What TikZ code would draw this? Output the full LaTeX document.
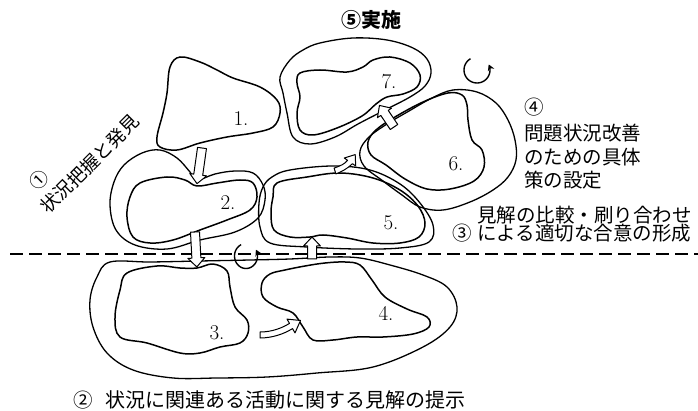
\documentclass[tikz,border=0pt]{standalone}
\usepackage{fontspec}
\newfontfamily\jp{Noto Sans CJK JP}
\usetikzlibrary{arrows.meta}
\newcommand\blockarrow[4]{%
\begin{scope}[shift={(#1,#2)},rotate=#3]
\draw[barrowstyle] (0,-4.5) -- ({#4-9},-4.5) -- ({#4-9},-8.5) -- (#4,0) -- ({#4-9},8.5) -- ({#4-9},4.5) -- (0,4.5) -- cycle;
\end{scope}}
\begin{document}
\begin{tikzpicture}[x=1pt,y=-1pt,
  blob/.style={line width=1.5pt, line join=round},
  outer/.style={line width=1.3pt, line join=round},
  barrowstyle/.style={draw, fill=white, line width=1pt, line join=round},
  num/.style={font=\fontsize{21}{21}\selectfont, inner sep=0pt},
  jtext/.style={font=\jp\fontsize{19.5}{20}\selectfont, inner sep=0pt, anchor=west},
  turn/.style={line width=1.4pt, -{Stealth[length=6pt,width=7pt]}},
]
\useasboundingbox (0,0) rectangle (698,411);

% dashed separation line
\draw[line width=1.2pt, dash pattern=on 13pt off 6pt] (10,254) coordinate (dl) -- (698,254) coordinate (dr);

% outer loops
\draw[outer] plot[smooth cycle, tension=0.6] coordinates {(197,180) (215,174) (235,171) (253,173) (263,185) (265,200) (258,218) (235,232) (200,240) (167,249) (135,245) (116,230) (110,205) (114,182) (124,165) (142,153) (160,150) (177,158) (190,172)};
\draw[outer] plot[smooth cycle, tension=0.6] coordinates {(110,262) (97,277) (90,300) (93,327) (107,353) (133,370) (173,378) (217,378) (267,377) (317,373) (373,367) (423,347) (450,327) (457,307) (447,287) (423,275) (390,265) (360,258) (330,257) (290,259) (250,260) (200,261) (150,262)};
\draw[outer] plot[smooth cycle, tension=0.6] coordinates {(263,187) (272,177) (290,170) (333,166) (370,170) (400,184) (420,203) (433,225) (429,242) (400,248) (357,249) (307,247) (270,243) (260,227) (259,203)};
\draw[outer] plot[smooth cycle, tension=0.6] coordinates {(369,137) (387,124) (409,111) (432,98) (453,90) (477,92) (496,103) (508,120) (515,140) (516,160) (508,177) (493,190) (470,202) (443,210) (420,207) (402,195) (383,181) (364,166) (360,151)};
\draw[outer] plot[smooth cycle, tension=0.6] coordinates {(303,50) (320,43) (353,38) (387,40) (413,48) (427,59) (431,73) (425,86) (410,97) (385,110) (358,124) (335,137) (310,144) (293,137) (287,113) (283,93) (280,77) (290,60)};

% inner blobs
\draw[blob] plot[smooth cycle, tension=0.6] coordinates {(180,57) (200,62) (217,70) (233,78) (260,87) (277,100) (280,113) (273,127) (253,133) (227,137) (200,143) (177,150) (160,147) (157,137) (163,113) (167,93) (170,67)};
\draw[blob] plot[smooth cycle, tension=0.6] coordinates {(140,183) (167,177) (185,180) (197,186) (217,183) (240,180) (253,183) (257,197) (250,210) (227,220) (200,230) (173,240) (150,243) (133,237) (127,217) (130,197)};
\draw[blob] plot[smooth cycle, tension=0.6] coordinates {(127,273) (157,266) (180,268) (197,268) (213,264) (227,271) (230,287) (235,307) (247,320) (248,333) (240,343) (220,347) (200,353) (180,353) (147,343) (120,337) (115,317) (120,290)};
\draw[blob] plot[smooth cycle, tension=0.6] coordinates {(263,297) (262,283) (270,274) (285,270) (305,266) (325,263) (345,262) (360,265) (372,280) (385,297) (407,309) (427,317) (429,327) (413,334) (383,337) (357,337) (333,340) (313,340) (303,327) (293,313) (277,307)};
\draw[blob] plot[smooth cycle, tension=0.6] coordinates {(277,183) (307,177) (340,173) (373,178) (400,190) (418,206) (425,223) (419,237) (400,243) (373,243) (347,238) (323,235) (310,237) (290,237) (274,230) (271,213) (273,197)};
\draw[blob] plot[smooth cycle, tension=0.6] coordinates {(376,130) (395,117) (423,102) (448,93) (462,95) (467,105) (468,120) (472,140) (482,150) (484,167) (474,181) (450,189) (427,189) (405,179) (386,165) (371,155) (368,142)};
\draw[blob] plot[smooth cycle, tension=0.6] coordinates {(300,73) (320,70) (347,72) (363,67) (373,60) (390,57) (410,63) (420,75) (417,87) (403,94) (387,97) (376,104) (362,116) (337,128) (313,135) (300,130) (297,113) (300,97) (297,83)};

% block arrows
\blockarrow{202}{148}{-98}{36}
\blockarrow{195}{232}{-87}{35}
\blockarrow{312}{259}{90}{22}
\blockarrow{394}{127}{124}{26}
% curved arrow 3 -> 4
\draw[barrowstyle] (260,332) .. controls (272,332) and (282,328) .. (289.5,323.4) -- (287,319.1) -- (300.5,320.5) -- (295,332.9) -- (292.5,328.6) .. controls (284,334) and (272,338) .. (260,338) -- cycle;
% curved arrow 5 -> 6
\draw[barrowstyle] (334.1,168.1) .. controls (340,166) and (345,164) .. (347.5,160.3) -- (344.3,158.0) -- (355.2,154.6) -- (355.7,166.0) -- (352.5,163.7) .. controls (347,169) and (341,172) .. (335.9,173.9) -- cycle;

% turning arrows
\coordinate (ca) at (477,70);
\coordinate (cb) at (246,256);
\draw[turn] plot[domain=120:385, samples=40, smooth] ({477+13*cos(\x)}, {70-13*sin(\x)});
\draw[turn] plot[domain=115:390, samples=40, smooth] ({246+11.5*cos(\x)}, {256-12.5*sin(\x)});

% numbers
\node[num] (n1) at (241,119) {1.};
\node[num] (n2) at (228,203) {2.};
\node[num] (n3) at (217,333) {3.};
\node[num] (n4) at (386,313) {4.};
\node[num] (n5) at (391,223) {5.};
\node[num] (n6) at (456,164) {6.};
\node[num] (n7) at (389,82) {7.};

% texts
\node[jtext, font=\jp\bfseries\fontsize{20}{20}\selectfont] (t5) at (341,20) {⑤実施};
\node[jtext] (t4a) at (524,107) {④};
\node[jtext] (t4b) at (524,133) {問題状況改善};
\node[jtext] (t4c) at (524,157) {のための具体};
\node[jtext] (t4d) at (524,180) {策の設定};
\node[jtext] (t3a) at (477,215) {見解の比較・刷り合わせ};
\node[jtext, anchor=center] (t3n) at (462,233) {③};
\node[jtext] (t3b) at (477,233) {による適切な合意の形成};
\node[jtext, anchor=center] (t2n) at (83,400) {②};
\node[jtext, font=\jp\fontsize{20}{20}\selectfont] (t2) at (105,400) {状況に関連ある活動に関する見解の提示};
\node[jtext, anchor=center, rotate=45, align=left, font=\jp\fontsize{18.5}{24.5}\selectfont] (t1) at (81,155) {\hspace{0.45em}①\\状況把握と発見};
\end{tikzpicture}
\end{document}
